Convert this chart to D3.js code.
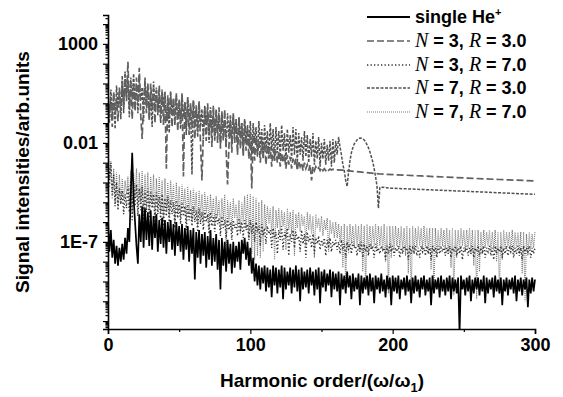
<!DOCTYPE html>
<html>
<head>
<meta charset="utf-8">
<script src="https://cdn.jsdelivr.net/npm/d3@7"></script>
<style>
  body { margin: 0; background: #fff; }
  text { font-family: "Liberation Sans", Arial, sans-serif; font-weight: bold; fill: #000; }
</style>
</head>
<body>
<svg id="chart" width="563" height="397"></svg>
<script>
// log10 of signal intensity, one value per harmonic order starting at 0
const singleHe = [
  -5.9,-7.5,-6.4,-7.8,-6.9,-8.1,-7.2,-8.2,-7.3,-8.0,-7.1,-7.9,-6.8,-7.6,-6.3,-7.0,-4.6,-2.5,-4.8,-6.0,
  -7.2,-8.1,-5.6,-7.0,-5.2,-7.3,-5.3,-6.9,-5.5,-7.2,-5.4,-7.4,-5.7,-6.8,-5.6,-7.5,-5.9,-7.1,-5.8,-7.3,
  -5.9,-7.6,-6.0,-7.0,-5.9,-7.4,-6.1,-7.7,-6.0,-7.2,-6.2,-7.5,-6.1,-7.9,-6.3,-7.4,-6.2,-8.0,-6.4,-7.6,
  -6.3,-8.9,-6.5,-7.8,-6.4,-8.1,-6.6,-7.7,-6.5,-8.3,-6.7,-7.9,-6.4,-8.2,-6.8,-8.0,-6.6,-8.4,-6.9,-9.4,
  -6.8,-8.2,-7.0,-8.5,-6.9,-8.1,-7.1,-8.6,-7.0,-8.3,-7.2,-8.0,-7.0,-8.4,-6.9,-7.6,-6.8,-7.9,-7.0,-8.2,
  -7.3,-8.6,-7.8,-9.0,-8.1,-9.2,-8.2,-9.4,-8.3,-9.1,-8.2,-9.5,-8.3,-9.3,-8.4,-9.8,-8.2,-9.2,-8.3,-9.6,
  -8.4,-9.3,-8.2,-9.9,-8.3,-9.4,-8.5,-9.2,-8.3,-9.6,-8.4,-9.3,-8.2,-9.5,-8.4,-10.0,-8.3,-9.4,-8.5,-9.3,
  -8.4,-9.6,-8.3,-9.2,-8.5,-9.7,-8.4,-9.4,-8.3,-10.1,-8.5,-9.3,-8.4,-9.5,-8.6,-9.2,-8.4,-9.8,-8.5,-9.4,
  -8.6,-9.5,-8.5,-10.2,-8.6,-9.4,-8.7,-9.6,-8.5,-9.3,-8.7,-9.9,-8.6,-9.5,-8.8,-9.4,-8.6,-10.2,-8.7,-9.6,
  -8.8,-9.4,-8.7,-9.7,-8.6,-9.5,-8.8,-10.1,-8.7,-9.4,-8.8,-9.6,-8.6,-9.5,-8.9,-9.8,-8.7,-9.4,-8.8,-10.2,
  -8.7,-9.5,-8.8,-9.6,-8.7,-9.9,-8.9,-9.4,-8.8,-9.7,-8.7,-9.5,-8.9,-10.1,-8.8,-9.6,-8.7,-9.5,-8.9,-9.8,
  -8.8,-9.4,-8.7,-9.7,-8.9,-9.5,-8.8,-10.2,-8.7,-9.6,-8.9,-9.4,-8.8,-9.8,-8.7,-9.5,-8.9,-9.7,-8.8,-9.5,
  -8.7,-9.9,-8.8,-9.5,-8.9,-9.6,-8.8,-11.6,-8.7,-9.4,-8.9,-9.7,-8.8,-9.5,-8.7,-10.0,-8.9,-9.6,-8.8,-9.4,
  -8.8,-9.7,-8.9,-9.5,-8.7,-10.1,-8.8,-9.6,-8.9,-9.4,-8.8,-9.8,-8.7,-9.5,-8.9,-9.6,-8.8,-10.2,-8.9,-9.5,
  -8.8,-9.7,-8.9,-9.4,-8.8,-9.6,-8.7,-10.0,-8.9,-9.5,-8.8,-9.7,-8.9,-9.4,-8.8,-10.3,-8.9,-9.6,-8.8,-9.5,
  -8.9
];

const n3r3Dense = [
  0.5,-0.7,0.3,-1.2,0.6,-0.5,0.2,-0.9,0.8,-0.4,1.1,-0.2,1.5,0.1,2.1,-0.3,1.0,-0.8,0.9,-0.4,
  1.3,0.0,1.8,-0.6,-1.8,0.2,1.1,-0.5,0.9,-0.9,1.0,-0.3,0.8,-1.0,0.7,-0.4,0.9,-0.8,0.6,-1.1,
  0.5,-3.3,0.4,-0.7,0.6,-1.2,0.3,-0.9,0.5,-1.4,0.2,-1.0,0.4,-3.7,0.1,-1.3,0.3,-1.6,0.0,-1.2,
  0.2,-1.8,-0.1,-1.4,0.1,-2.0,-3.9,-1.5,-0.2,-1.9,0.0,-1.6,-0.3,-2.2,-0.1,-1.7,-0.4,-2.0,-0.2,-2.3,
  -0.5,-1.9,-0.3,-2.4,-4.1,-2.1,-0.6,-2.5,-0.5,-2.0,-0.8,-2.6,-0.7,-2.3,-1.0,-2.7,-0.9,-2.4,-1.2,-2.8,
  -1.4,-4.3,-1.6,-2.9,-1.7,-2.6,-1.9,-3.0,-1.8,-2.7,-2.0,-3.1,-2.1,-2.8,-2.2,-3.2,-2.3,-2.9,-2.4,-3.0,
  -2.4,-3.2,-2.5,-3.0,-2.6,-3.3,-2.6,-3.1,-2.7,-3.3,-2.8,-3.1,-2.8,-3.4,-2.9,-3.2,-3.0,-3.4,-3.0,-3.3,
  -3.1,-3.4,-3.1,-3.9,-3.2,-3.4,-3.2,-3.35,-3.25,-3.4,-3.25,-3.4,-3.3,-3.4,-3.3,-3.38,-3.32,-3.37,-3.33,-3.36
];
// smooth part after the cut-off: [harmonic order, log10 intensity]
const n3r3Tail = [[165,-3.38],[175,-3.45],[191,-3.57],[220,-3.67],[250,-3.77],[275,-3.85],[300,-3.92]];

const n7r3Dense = [
  0.3,-1.0,0.7,-0.6,0.4,-1.3,0.9,-0.2,0.6,-0.8,1.4,-0.5,1.6,0.3,1.2,-0.7,1.3,0.2,1.5,-0.1,
  0.9,-0.5,1.2,0.1,0.8,-0.9,1.3,-0.1,1.0,-0.7,0.6,-1.2,1.1,-0.3,0.8,-0.6,0.5,-1.0,0.7,-0.2,
  0.6,-0.9,0.3,-1.5,0.5,-0.6,0.2,-1.1,0.4,-0.8,0.1,-1.3,0.5,-0.7,0.0,-1.6,0.3,-0.9,-0.1,-3.6,
  0.1,-1.0,-0.2,-1.7,0.0,-1.2,-0.3,-1.8,-0.1,-1.1,-0.4,-2.0,-0.2,-1.4,-0.5,-1.9,-0.3,-1.5,-0.6,-2.1,
  -0.4,-1.6,-0.7,-2.2,-0.5,-1.7,-0.8,-2.0,-0.6,-1.5,-0.9,-2.3,-0.7,-1.8,-1.0,-2.4,-0.8,-1.9,-1.1,-2.2,
  -0.9,-2.6,-1.0,-2.0,-1.2,-2.7,-0.9,-2.2,-1.3,-2.8,-1.1,-2.3,-1.4,-2.6,-1.0,-2.4,-1.3,-2.9,-1.2,-2.5,
  -1.4,-2.7,-1.1,-2.4,-1.5,-2.9,-1.3,-2.5,-1.6,-2.8,-1.2,-2.6,-1.3,-3.0,-1.5,-2.6,-1.7,-2.9,-1.4,-2.7,
  -1.6,-3.0,-1.8,-2.7,-1.5,-3.1,-1.9,-2.8,-1.7,-3.2,-2.0,-2.8,-1.8,-3.1,-2.1,-2.9,-1.9,-3.2,-1.8,-3.0,
  -1.9,-2.6,-1.7,-2.2,-2.6,-3.1,-3.4,-3.9,-4.2,-3.5,-2.9,-2.5,-2.25,-2.05,-1.95,-1.85,-1.78,-1.75,-1.76,-1.8,
  -1.85,-1.95,-2.1,-2.25,-2.45,-2.7,-2.95,-3.3,-3.7,-4.2,-5.3,-4.25,-4.22,-4.25,-4.24,-4.27,-4.26,-4.28,-4.27,-4.29
];
const n7r3Tail = [[230,-4.38],[260,-4.47],[300,-4.6]];

const n3r7 = [
  -2.4,-4.2,-3.0,-4.8,-3.6,-5.2,-4.0,-5.4,-4.3,-5.1,-4.4,-5.6,-4.6,-5.3,-4.2,-5.5,-3.8,-5.9,-4.0,-5.2,
  -4.1,-5.7,-4.3,-5.4,-4.2,-6.0,-4.4,-5.5,-4.3,-5.8,-4.5,-5.3,-4.6,-6.1,-4.5,-5.6,-4.7,-5.9,-4.6,-6.2,
  -4.8,-5.7,-4.7,-6.0,-4.9,-5.6,-5.0,-6.3,-4.9,-5.8,-5.1,-6.1,-5.0,-5.7,-5.2,-6.4,-5.1,-5.9,-5.3,-6.2,
  -5.2,-6.0,-5.4,-6.5,-5.3,-6.1,-5.5,-6.4,-5.4,-6.0,-5.6,-6.6,-5.5,-6.2,-5.7,-6.5,-5.6,-6.1,-5.8,-6.7,
  -5.7,-6.3,-5.9,-6.8,-5.8,-6.4,-6.0,-6.9,-5.9,-6.3,-6.1,-6.7,-5.8,-6.5,-6.0,-6.8,-5.9,-6.4,-6.1,-6.9,
  -5.9,-6.6,-6.1,-7.0,-6.0,-6.5,-6.2,-7.2,-6.1,-6.7,-6.3,-7.1,-6.2,-6.6,-6.4,-7.3,-6.3,-6.8,-6.5,-7.6,
  -6.4,-6.9,-6.2,-7.4,-6.5,-6.8,-6.3,-7.7,-6.6,-7.0,-6.4,-7.3,-6.5,-6.9,-6.7,-7.5,-6.4,-7.1,-6.6,-7.8,
  -6.5,-7.0,-6.7,-7.3,-6.6,-7.6,-6.8,-7.1,-6.7,-7.4,-6.9,-7.2,-6.8,-7.7,-6.9,-7.3,-6.8,-7.5,-7.0,-7.2,
  -6.9,-7.4,-7.0,-7.6,-6.9,-7.3,-7.1,-7.8,-7.0,-7.4,-7.1,-7.6,-7.0,-7.3,-7.2,-7.7,-7.1,-7.5,-7.0,-7.8,
  -7.1,-7.5,-7.2,-7.7,-7.1,-7.4,-7.2,-7.8,-7.1,-7.5,-7.3,-7.6,-7.2,-7.4,-7.3,-7.9,-7.2,-7.6,-7.1,-7.5,
  -7.2,-7.7,-7.3,-7.5,-7.2,-7.8,-7.3,-7.6,-7.2,-7.4,-7.3,-7.9,-7.2,-7.6,-7.3,-7.5,-7.2,-7.7,-7.3,-7.8,
  -7.2,-7.5,-7.3,-7.7,-7.2,-7.6,-7.3,-7.9,-7.2,-7.5,-7.3,-7.8,-7.2,-7.6,-7.3,-7.5,-7.2,-7.7,-7.3,-7.6,
  -7.2,-7.8,-7.3,-7.5,-7.2,-7.7,-7.3,-7.6,-7.2,-7.9,-7.3,-7.5,-7.2,-7.7,-7.3,-7.6,-7.2,-7.8,-7.3,-7.5,
  -7.2,-7.7,-7.3,-7.6,-7.2,-7.8,-7.3,-7.5,-7.2,-7.7,-7.3,-7.9,-7.2,-7.6,-7.3,-7.5,-7.2,-7.8,-7.3,-7.6,
  -7.2,-7.7,-7.3,-7.5,-7.2,-7.8,-7.3,-7.6,-7.2,-7.7,-7.3,-7.9,-7.2,-7.6,-7.3,-7.5,-7.2,-7.8,-7.3,-7.6,
  -7.3
];

const n7r7 = [
  -2.2,-3.8,-2.9,-4.6,-3.3,-5.0,-3.5,-5.2,-3.6,-5.1,-3.8,-4.9,-3.9,-4.6,-3.7,-5.3,-3.4,-5.5,-3.5,-4.8,
  -3.3,-5.4,-3.5,-5.0,-3.4,-5.8,-3.6,-5.2,-3.5,-5.6,-3.7,-5.1,-3.6,-5.9,-3.8,-5.3,-3.7,-5.5,-3.9,-6.0,
  -3.8,-5.4,-4.0,-5.7,-3.9,-5.2,-4.1,-6.1,-4.0,-5.5,-4.2,-5.8,-4.1,-5.3,-4.3,-6.0,-4.2,-5.6,-4.4,-5.9,
  -4.3,-5.5,-4.5,-6.2,-4.4,-5.7,-4.6,-6.0,-4.5,-5.6,-4.7,-6.3,-4.6,-5.8,-4.8,-6.1,-4.7,-5.7,-4.9,-6.4,
  -4.8,-5.9,-4.6,-7.5,-4.9,-6.0,-5.0,-6.5,-4.8,-5.8,-5.1,-6.2,-4.9,-6.6,-5.0,-6.0,-4.7,-6.3,-4.6,-6.8,
  -4.6,-7.6,-4.7,-7.9,-4.8,-7.7,-5.0,-7.8,-4.9,-7.5,-5.1,-6.4,-5.2,-6.1,-5.3,-6.6,-5.2,-7.9,-5.4,-6.3,
  -5.3,-6.5,-5.4,-6.2,-5.5,-7.4,-5.3,-6.4,-5.5,-6.6,-5.4,-7.7,-5.6,-6.3,-5.5,-6.5,-5.6,-6.2,-5.7,-7.2,
  -5.5,-6.4,-5.6,-6.6,-5.7,-7.8,-5.6,-6.3,-5.8,-6.5,-5.7,-6.7,-5.9,-6.4,-5.8,-7.5,-5.9,-6.6,-6.0,-6.8,
  -6.0,-6.8,-6.1,-7.0,-6.2,-8.3,-6.1,-9.2,-6.2,-7.6,-6.1,-7.1,-6.2,-7.3,-6.1,-7.2,-6.2,-7.5,-6.1,-8.5,
  -6.2,-9.4,-6.1,-7.6,-6.2,-7.3,-6.2,-7.2,-6.1,-7.4,-6.2,-7.2,-6.2,-7.5,-6.1,-8.0,-6.2,-9.6,-6.2,-7.8,
  -6.2,-7.4,-6.2,-7.2,-6.3,-7.3,-6.2,-7.5,-6.3,-7.7,-6.2,-8.6,-6.3,-9.8,-6.2,-7.6,-6.3,-7.3,-6.2,-7.2,
  -6.3,-7.4,-6.2,-7.3,-6.3,-7.6,-6.3,-8.4,-6.3,-9.5,-6.3,-7.7,-6.4,-7.4,-6.3,-7.2,-6.4,-7.4,-6.3,-7.6,
  -6.4,-8.3,-6.3,-9.7,-6.4,-7.8,-6.4,-7.4,-6.3,-7.2,-6.4,-7.5,-6.4,-7.3,-6.3,-7.6,-6.4,-8.2,-6.4,-9.9,
  -6.4,-8.5,-6.5,-7.6,-6.4,-7.3,-6.5,-7.2,-6.4,-7.5,-6.5,-7.4,-6.4,-8.0,-6.5,-9.6,-6.5,-7.9,-6.4,-7.4,
  -6.5,-7.2,-6.5,-7.4,-6.4,-7.5,-6.5,-7.3,-6.5,-7.6,-6.5,-8.6,-6.5,-10.0,-6.6,-7.7,-6.5,-7.4,-6.6,-7.3,
  -6.5
];

const xTicks = [0, 100, 200, 300];
const xMinorTicks = [50, 150, 250];
const yLabelled = [1e3, 1e-2, 1e-7];
const yLabelText = ['1000', '0.01', '1E-7'];

const svg = d3.select('#chart');
const plotLeft = 108, plotRight = 535, plotTop = 15, plotBottom = 329;

const x = d3.scaleLinear().domain([0, 300]).range([plotLeft, plotRight]);
const y = d3.scaleLog().domain([Math.pow(10, -11.4), Math.pow(10, 4.46)]).range([plotBottom, plotTop]);

const dense = arr => arr.map((v, i) => [i, v]);
const series = [
  {data: dense(n7r7), color: '#7a7a7a', width: 1.1, dash: '1,1'},
  {data: dense(n3r7), color: '#333', width: 1.4, dash: '1.3,2.2'},
  {data: dense(n7r3Dense).concat(n7r3Tail), color: '#505050', width: 1.5, dash: '3,1.5'},
  {data: dense(n3r3Dense).concat(n3r3Tail), color: '#606060', width: 1.7, dash: '7,3'},
  {data: dense(singleHe), color: '#000', width: 1.7, dash: null}
];

svg.append('clipPath').attr('id', 'plot')
  .append('rect').attr('x', plotLeft).attr('y', plotTop)
  .attr('width', plotRight - plotLeft + 2).attr('height', plotBottom - plotTop);

const line = d3.line()
  .x(d => x(d[0]))
  .y(d => y(Math.pow(10, d[1])));

svg.append('g').attr('clip-path', 'url(#plot)')
  .selectAll('path')
  .data(series)
  .enter()
  .append('path')
  .attr('d', d => line(d.data))
  .attr('fill', 'none')
  .attr('stroke', d => d.color)
  .attr('stroke-width', d => d.width)
  .attr('stroke-dasharray', d => d.dash);

// axes
svg.append('g')
  .attr('transform', 'translate(0,' + plotBottom + ')')
  .call(d3.axisBottom(x).tickValues(xTicks).tickSize(5).tickPadding(4).tickFormat(d3.format('d')));
svg.append('g')
  .attr('transform', 'translate(0,' + plotBottom + ')')
  .call(d3.axisBottom(x).tickValues(xMinorTicks).tickSize(3).tickFormat(''))
  .select('.domain').remove();

const decades = d3.range(-11, 5).map(e => Math.pow(10, e));
const minors = [];
d3.range(-12, 5).forEach(e => {
  for (let k = 2; k <= 9; k++) {
    const v = k * Math.pow(10, e);
    if (v >= y.domain()[0] && v <= y.domain()[1]) minors.push(v);
  }
});

svg.append('g')
  .attr('transform', 'translate(' + plotLeft + ',0)')
  .call(d3.axisLeft(y).tickValues(decades).tickSize(5).tickPadding(5).tickFormat(d => {
    const i = yLabelled.findIndex(v => Math.abs(Math.log10(v) - Math.log10(d)) < 1e-6);
    return i >= 0 ? yLabelText[i] : '';
  }));
svg.append('g')
  .attr('transform', 'translate(' + plotLeft + ',0)')
  .call(d3.axisLeft(y).tickValues(minors).tickSize(2.5).tickFormat(''))
  .select('.domain').remove();

svg.selectAll('.domain').attr('stroke', '#000').attr('stroke-width', 1.6);
svg.selectAll('.tick line').attr('stroke', '#000').attr('stroke-width', 1.2);
svg.selectAll('.tick text')
  .style('font-family', '"Liberation Sans", Arial, sans-serif')
  .style('font-weight', 'bold')
  .style('font-size', '18px')
  .attr('fill', '#000');

// axis titles
svg.append('text')
  .attr('transform', 'translate(29,172) rotate(-90)')
  .attr('text-anchor', 'middle')
  .style('font-size', '19px')
  .text('Signal intensities/arb.units');

const xt = svg.append('text')
  .attr('x', 322).attr('y', 387)
  .attr('text-anchor', 'middle')
  .style('font-size', '19px');
xt.append('tspan').text('Harmonic order/(\u03c9/\u03c9');
xt.append('tspan').attr('dy', 5).style('font-size', '13px').text('1');
xt.append('tspan').attr('dy', -5).text(')');

// legend
const legendRows = [
  [['single He', 'b'], ['+', 'sup']],
  [['N', 'i'], [' = 3, ', 'b'], ['R', 'i'], [' = 3.0', 'b']],
  [['N', 'i'], [' = 3, ', 'b'], ['R', 'i'], [' = 7.0', 'b']],
  [['N', 'i'], [' = 7, ', 'b'], ['R', 'i'], [' = 3.0', 'b']],
  [['N', 'i'], [' = 7, ', 'b'], ['R', 'i'], [' = 7.0', 'b']]
];
const legendStyle = [series[4], series[3], series[1], series[2], series[0]];
const rowY = [17, 41, 65, 88, 112];

legendRows.forEach((row, i) => {
  const s = legendStyle[i];
  svg.append('line')
    .attr('x1', 367).attr('x2', 410)
    .attr('y1', rowY[i]).attr('y2', rowY[i])
    .attr('stroke', s.color)
    .attr('stroke-width', i === 0 ? 1.8 : s.width)
    .attr('stroke-dasharray', s.dash);
  const t = svg.append('text')
    .attr('x', 415).attr('y', rowY[i] + 6)
    .style('font-size', '18px');
  row.forEach(p => {
    const sp = t.append('tspan').text(p[0]);
    if (p[1] === 'i') {
      sp.style('font-family', '"Liberation Serif", "Times New Roman", serif')
        .style('font-style', 'italic').style('font-weight', 'normal').style('font-size', '20px');
    } else if (p[1] === 'sup') {
      sp.attr('dy', -7).style('font-size', '11px');
    }
  });
});
</script>
</body>
</html>
